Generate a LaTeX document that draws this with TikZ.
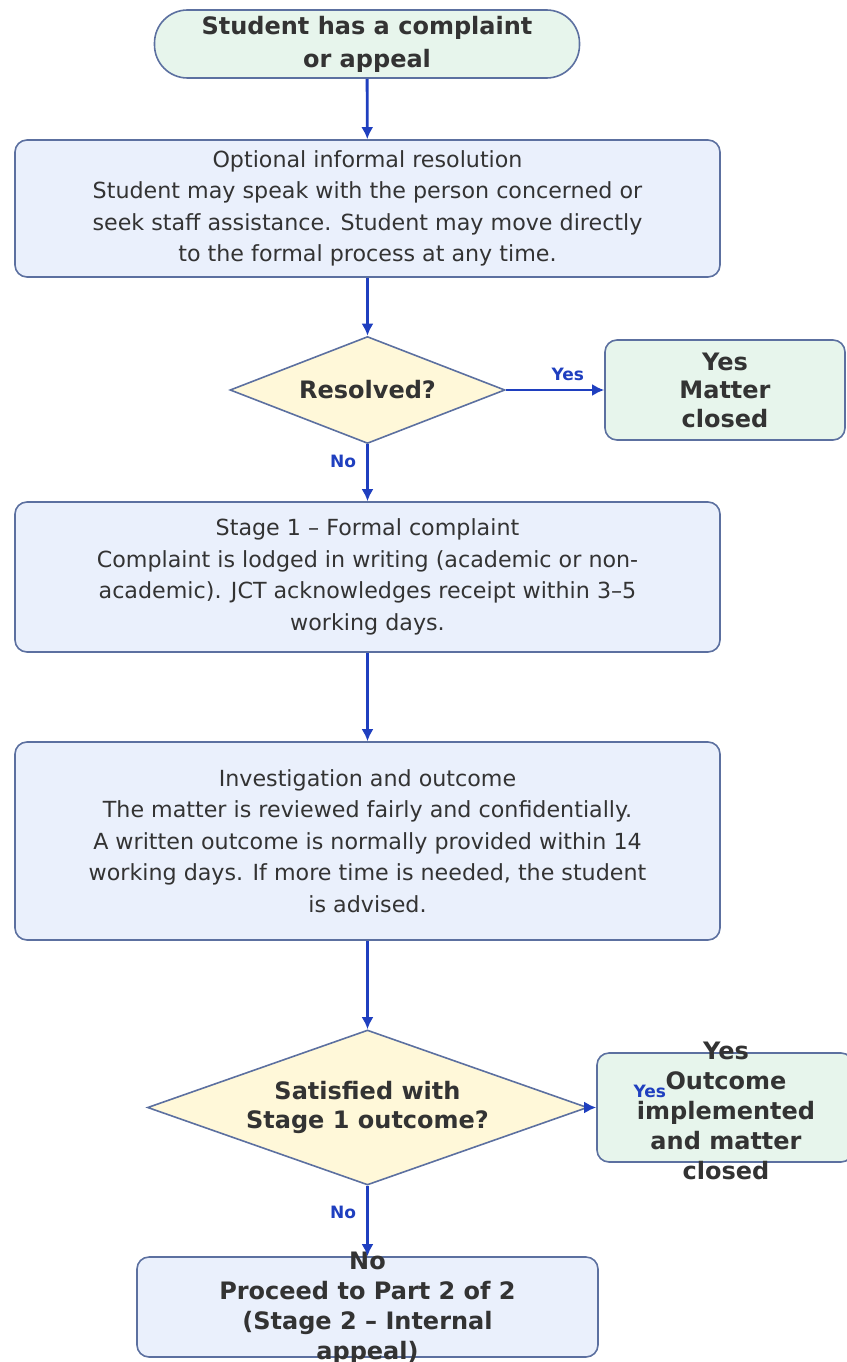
\documentclass[tikz,border=0pt]{standalone}
\usepackage{fontspec}
\setmainfont{DejaVu Sans}
\usetikzlibrary{shapes.geometric,arrows.meta}
\definecolor{edgec}{HTML}{5C70A0}
\definecolor{greenf}{HTML}{E7F5EC}
\definecolor{bluef}{HTML}{EAF0FC}
\definecolor{yellowf}{HTML}{FFF8D9}
\definecolor{arrowc}{HTML}{1F3FBF}
\definecolor{txt}{HTML}{333333}
\tikzset{
  base/.style={draw=edgec, line width=1.6pt, text=txt, align=center, inner sep=0pt},
  startbox/.style={base, fill=greenf, rounded corners=33pt, font=\fontsize{24}{33}\selectfont\bfseries},
  procbox/.style={base, fill=bluef, rounded corners=12pt, font=\fontsize{22.2}{31.5}\selectfont},
  endbox/.style={base, fill=greenf, rounded corners=12pt, font=\fontsize{24}{28.5}\selectfont\bfseries},
  finalbox/.style={base, fill=bluef, rounded corners=12pt},
  decision/.style={base, diamond, fill=yellowf, font=\fontsize{24}{29}\selectfont\bfseries},
  bigtext/.style={text=txt, align=center, font=\fontsize{24}{30}\selectfont\bfseries, inner sep=0pt},
  flow/.style={draw=arrowc, line width=2.8pt, -{Latex[length=12pt,width=12pt]}},
  lbl/.style={text=arrowc, font=\fontsize{17}{18}\selectfont\bfseries, inner sep=2pt}
}
\begin{document}
\begin{tikzpicture}[x=1pt,y=-1pt]
\useasboundingbox (0,0) rectangle (846,1362);
\node[startbox, minimum width=425pt, minimum height=68pt] (start) at (367,44) {Student has a complaint\\or appeal};
\node[procbox, minimum width=705pt, minimum height=137pt] (informal) at (367.5,208.5) {Optional informal resolution\\Student may speak with the person concerned or\\seek staff assistance. Student may move directly\\to the formal process at any time.};
\node[decision, aspect=2.57, minimum width=275pt, minimum height=107pt] (resolved) at (367.5,390) {Resolved?};
\node[endbox, minimum width=240pt, minimum height=100pt] (closed) at (725,390) {Yes\\Matter\\closed};
\node[procbox, minimum width=705pt, minimum height=150pt] (stage1) at (367.5,577) {Stage 1 -- Formal complaint\\Complaint is lodged in writing (academic or non-\\academic). JCT acknowledges receipt within 3--5\\working days.};
\node[procbox, minimum width=705pt, minimum height=198pt] (invest) at (367.5,841) {Investigation and outcome\\The matter is reviewed fairly and confidentially.\\A written outcome is normally provided within 14\\working days. If more time is needed, the student\\is advised.};
\node[decision, aspect=2.84, minimum width=440pt, minimum height=155pt] (satisfied) at (367.5,1107.5) {Satisfied with\\Stage 1 outcome?};
\node[endbox, minimum width=256pt, minimum height=109pt] (implemented) at (725,1107.5) {};
\node[bigtext] (impltext) at (726,1111) {Yes\\Outcome\\implemented\\and matter\\closed};
\node[finalbox, minimum width=461pt, minimum height=100pt] (part2) at (367.5,1307) {};
\node[bigtext] (part2text) at (367.5,1308) {No\\Proceed to Part 2 of 2\\(Stage 2 -- Internal\\appeal)};
\draw[flow] (start) -- (informal);
\draw[flow] (informal) -- (resolved);
\draw[flow] (resolved.east) -- node[lbl, pos=0.63, above=6pt] {Yes} (closed.west);
\draw[flow] (resolved.south) -- node[lbl, pos=0.3, left=8pt] {No} (stage1.north);
\draw[flow] (stage1) -- (invest);
\draw[flow] (invest) -- (satisfied);
\draw[flow] (satisfied.east) -- node[lbl, pos=1, anchor=south west, xshift=34pt, yshift=6pt] {Yes} (implemented.west);
\draw[flow] (satisfied.south) -- node[lbl, pos=0.38, left=8pt] {No} (part2.north);
\end{tikzpicture}
\end{document}
